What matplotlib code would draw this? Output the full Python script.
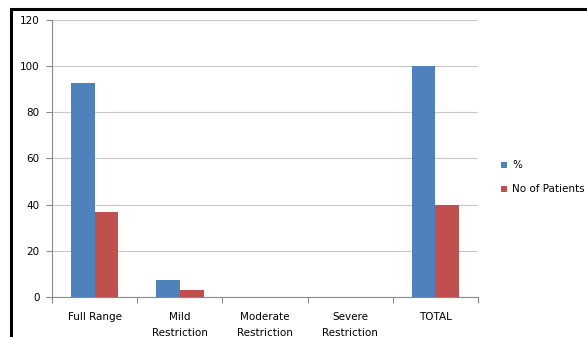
import numpy as np
import matplotlib.pyplot as plt
from matplotlib.patches import Rectangle

# =========================
# DATA
# =========================
categories = ["Full Range", "Mild\nRestriction", "Moderate\nRestriction",
              "Severe\nRestriction", "TOTAL"]
percent = [92.5, 7.5, 0, 0, 100]
patients = [37, 3, 0, 0, 40]

BLUE = "#4F81BD"
RED = "#C0504D"

# =========================
# PLOT
# =========================
fig = plt.figure(figsize=(5.87, 3.37), dpi=100)
ax = fig.add_axes([0.0886, 0.1187, 0.7257, 0.822])

x = np.arange(len(categories))
w = 0.28
ax.bar(x - w / 2, percent, w, color=BLUE, label="%", zorder=3)
ax.bar(x + w / 2, patients, w, color=RED, label="No of Patients", zorder=3)

ax.set_xlim(-0.5, len(categories) - 0.5)
ax.set_ylim(0, 120)
ax.set_yticks(range(0, 121, 20))
ax.tick_params(axis="y", labelsize=7.5, length=4, color="#888888", pad=5)
ax.grid(axis="y", color="#c8c8c8", linewidth=0.8, zorder=0)

# category boundaries carry the tick marks, labels sit in the middle
ax.set_xticks(np.arange(len(categories) + 1) - 0.5)
ax.set_xticklabels([])
ax.set_xticks(x, minor=True)
ax.set_xticklabels(categories, minor=True, fontsize=7.5, linespacing=1.75)
ax.tick_params(axis="x", which="major", length=4, color="#888888")
ax.tick_params(axis="x", which="minor", length=0, pad=11)

for side in ["top", "right"]:
    ax.spines[side].set_visible(False)
for side in ["left", "bottom"]:
    ax.spines[side].set_color("#888888")

fig.legend(loc="upper left", bbox_to_anchor=(0.838, 0.552), frameon=False,
           fontsize=7.5, handlelength=0.55, handleheight=0.55,
           labelspacing=1.35, handletextpad=0.5)

# outer frame around the chart
fig.patches.append(Rectangle((11 / 587, -0.1), 1.2, 1.1 - 9 / 337,
                             transform=fig.transFigure, fill=False,
                             edgecolor="black", linewidth=2.2))

fig.savefig("out.png", dpi=100)
plt.close()
